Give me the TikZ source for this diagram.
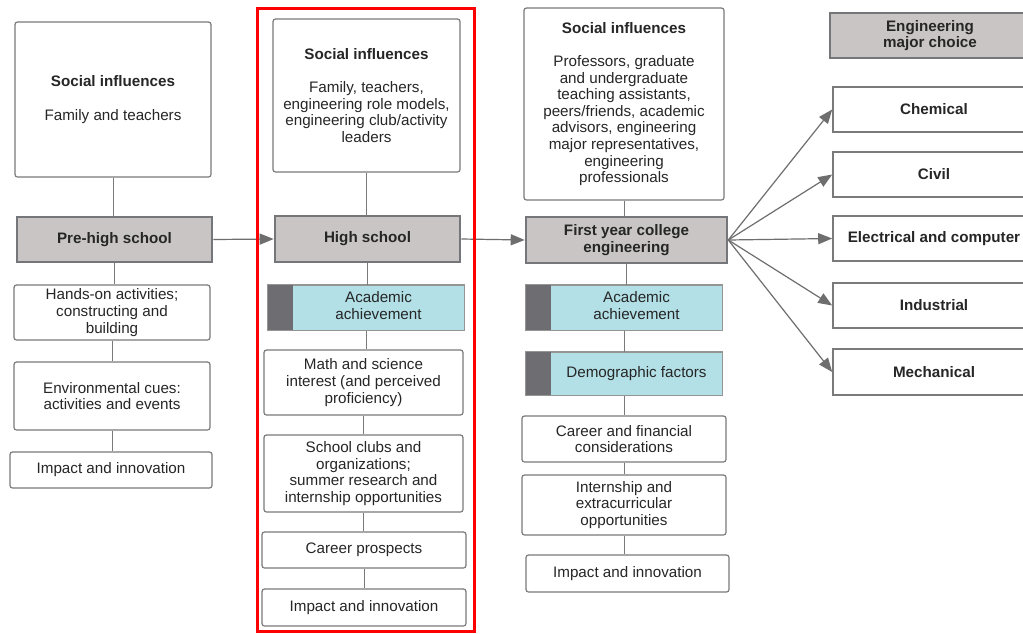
\documentclass[tikz,border=0pt]{standalone}
\usepackage{fontspec}
\setmainfont{Liberation Sans}
\usetikzlibrary{arrows.meta}
\definecolor{linegray}{HTML}{7A7A7A}
\definecolor{stagefill}{HTML}{C9C5C4}
\definecolor{stageedge}{HTML}{75767A}
\definecolor{acadfill}{HTML}{B2E0E6}
\definecolor{stripgray}{HTML}{6E6E72}
\definecolor{framered}{HTML}{FF0000}
\newcommand{\boxfont}{\fontsize{15.2}{16.6}\selectfont}
\tikzset{
  wh/.style 2 args={minimum width=#1pt, minimum height=#2pt},
  txt/.style={font=\boxfont, align=center, text=black!85},
  box/.style={txt, draw=linegray, line width=1.2pt, rounded corners=2.5pt, fill=white, inner sep=0pt},
  stage/.style={txt, font=\boxfont\bfseries, draw=stageedge, line width=2.6pt, fill=stagefill, inner sep=0pt},
  major/.style={txt, font=\boxfont\bfseries, draw=linegray, line width=1.6pt, fill=white, inner sep=0pt},
  acad/.style={txt, draw=linegray!80, line width=1pt, fill=acadfill, inner sep=0pt},
  link/.style={draw=linegray, line width=1pt},
  flow/.style={link, draw=linegray!90!black, line width=1.2pt, -{Triangle[length=14pt,width=11pt]}},
}
\begin{document}
\begin{tikzpicture}[x=1pt,y=-1pt]
\useasboundingbox (0,0) rectangle (1023,633);
\clip (0,0) rectangle (1023,633);
\fill[white] (0,0) rectangle (1023,633);

% ---- Pre-high school column
\node[box, wh={196}{155}] (s1) at (113,99.5) {\textbf{Social influences}\\[16.6pt]Family and teachers};
\node[stage, wh={195}{45}] (ph) at (114.5,239.5) {Pre-high school};
\node[box, wh={196}{55}] (p1) at (112,312.5) {Hands-on activities;\\constructing and\\building};
\node[box, wh={196}{68}] (p2) at (112,396) {Environmental cues:\\activities and events};
\node[box, wh={202}{36}] (p3) at (111,470) {Impact and innovation};

% ---- High school column
\node[box, wh={187}{153}] (s2) at (366.5,95.5) {\textbf{Social influences}\\[16.6pt]Family, teachers,\\engineering role models,\\engineering club/activity\\leaders};
\node[stage, wh={185}{46}] (hs) at (367.5,239) {High school};
\node[acad, wh={196}{45}] (h1) at (366,307.5) {\hspace*{25pt}\begin{tabular}{@{}c@{}}Academic\\achievement\end{tabular}};
\fill[stripgray] (h1.north west) rectangle ([xshift=25pt]h1.south west);
\draw[linegray!80, line width=1pt] (h1.north west) rectangle (h1.south east);
\node[box, wh={199}{65}] (h2) at (363.5,382.5) {Math and science\\interest (and perceived\\proficiency)};
\node[box, wh={199}{77}] (h3) at (363.5,473.5) {School clubs and\\organizations;\\summer research and\\internship opportunities};
\node[box, wh={204}{36}] (h4) at (364,550) {Career prospects};
\node[box, wh={204}{37}] (h5) at (364,607.5) {Impact and innovation};

% ---- First year college column
\node[box, wh={200}{192}] (s3) at (624,104) {\textbf{Social influences}\\[16.6pt]Professors, graduate\\and undergraduate\\teaching assistants,\\peers/friends, academic\\advisors, engineering\\major representatives,\\engineering\\professionals};
\node[stage, wh={201}{46}] (fy) at (626.5,240) {First year college\\engineering};
\node[acad, wh={196}{45}] (f1) at (624,307.5) {\hspace*{25pt}\begin{tabular}{@{}c@{}}Academic\\achievement\end{tabular}};
\fill[stripgray] (f1.north west) rectangle ([xshift=25pt]f1.south west);
\draw[linegray!80, line width=1pt] (f1.north west) rectangle (f1.south east);
\node[acad, wh={196}{43}] (f2) at (624,373.5) {\hspace*{25pt}Demographic factors};
\fill[stripgray] (f2.north west) rectangle ([xshift=25pt]f2.south west);
\draw[linegray!80, line width=1pt] (f2.north west) rectangle (f2.south east);
\node[box, wh={204}{46}] (f3) at (624,439) {Career and financial\\considerations};
\node[box, wh={204}{60}] (f4) at (624,505) {Internship and\\extracurricular\\opportunities};
\node[box, wh={203}{37}] (f5) at (627.5,573.5) {Impact and innovation};

% ---- Major choice column
\node[stage, wh={200}{45}] (mc) at (930,35.5) {Engineering\\major choice};
\node[major, wh={202}{45}] (m1) at (934,109.5) {Chemical};
\node[major, wh={202}{45}] (m2) at (934,174.5) {Civil};
\node[major, wh={202}{45}] (m3) at (934,238.5) {Electrical and computer};
\node[major, wh={202}{45}] (m4) at (934,305.5) {Industrial};
\node[major, wh={202}{46}] (m5) at (934,372) {Mechanical};

% ---- vertical links within columns
\draw[link] (s1.south) -- (s1.south |- ph.north);
\draw[link] (ph.south) -- (ph.south |- p1.north);
\draw[link] (p1.south) -- (p1.south |- p2.north);
\draw[link] (p2.south) -- (p2.south |- p3.north);
\draw[link] (s2.south) -- (s2.south |- hs.north);
\draw[link] (hs.south) -- (hs.south |- h1.north);
\draw[link] (h1.south) -- (h1.south |- h2.north);
\draw[link] (h2.south) -- (h2.south |- h3.north);
\draw[link] (h3.south) -- (h3.south |- h4.north);
\draw[link] (h4.south) -- (h4.south |- h5.north);
\draw[link] (s3.south) -- (s3.south |- fy.north);
\draw[link] (fy.south) -- (fy.south |- f1.north);
\draw[link] (f1.south) -- (f1.south |- f2.north);
\draw[link] (f2.south) -- (f2.south |- f3.north);
\draw[link] (f3.south) -- (f3.south |- f4.north);
\draw[link] (f4.south) -- (f4.south |- f5.north);

% ---- stage-to-stage arrows
\draw[flow] (ph.east) -- (hs.west);
\draw[flow] (hs.east) -- (fy.west);
\foreach \m in {m1,m2,m3,m4,m5} \draw[flow] (fy.east) -- (\m.west);

% ---- highlight frame around the high school stage
\draw[framered, line width=3.6pt] (257.5,8.5) rectangle (474.5,631.5);
\end{tikzpicture}
\end{document}
